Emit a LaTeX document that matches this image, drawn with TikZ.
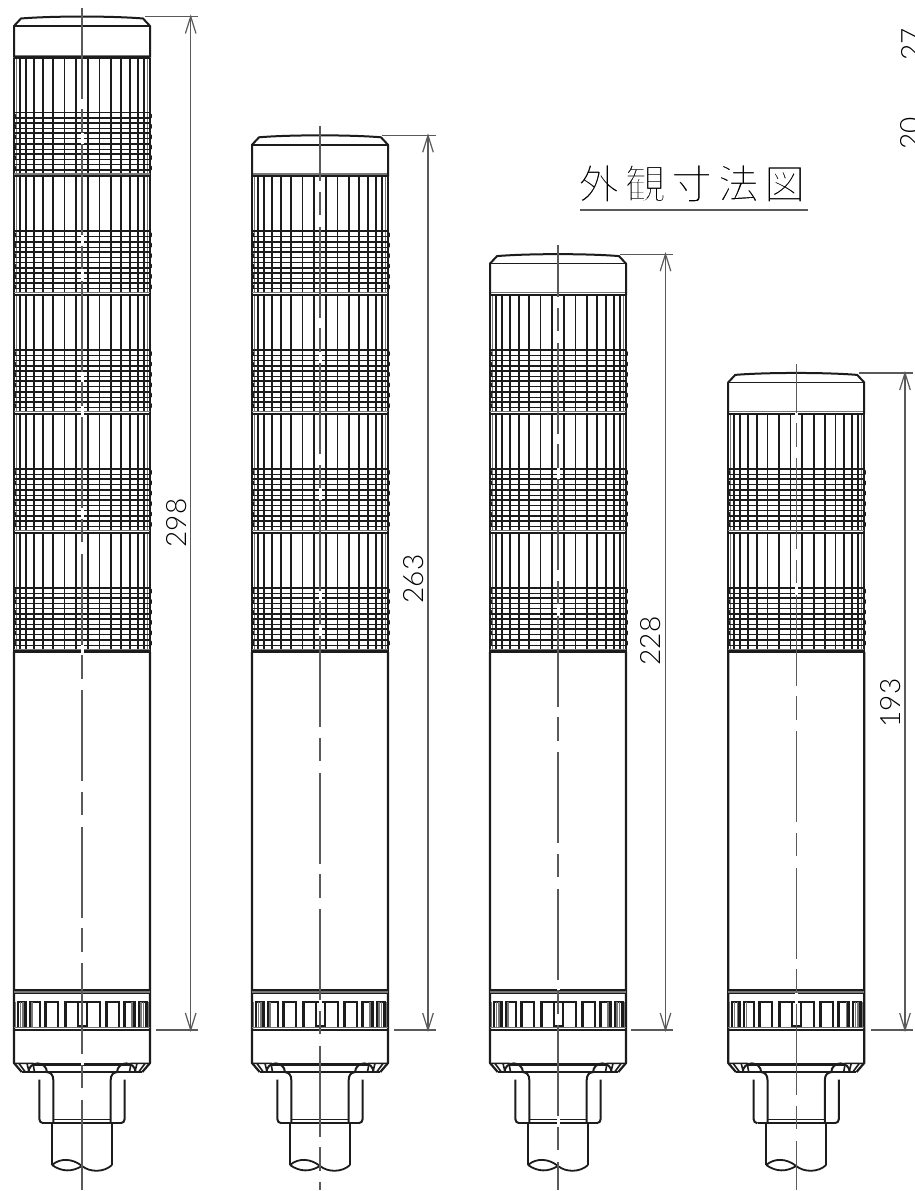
\documentclass[tikz,border=0pt]{standalone}
\usepackage{fontspec}
\newfontfamily\cjkfont{Noto Sans CJK JP}
\newfontfamily\dimfont{Lato Light}
\definecolor{ink}{HTML}{1C1C1C}
\definecolor{dimc}{HTML}{5A5A5A}
\definecolor{midc}{HTML}{777777}
\newcommand{\thinon}[1]{\special{pdf:code 2 Tr #1 w 1 1 1 RG}}
\newcommand{\thinoff}{\special{pdf:code 0 Tr 0 w}}
\tikzset{
  thin line/.style={draw=ink,line width=1.6pt},
  pale/.style={draw=midc,line width=1pt},
  dimline/.style={draw=dimc,line width=1.2pt},
  centerl/.style={draw=dimc,line width=1.3pt},
  dimtext/.style={inner sep=0pt,rotate=90,anchor=center,text=black,font=\dimfont\fontsize{28}{28}\selectfont},
}
\newcommand{\halfmodule}[1]{%
  \foreach \vx/\vw in {5.8/1.6,17.5/1.7,28.7/1.7,39.3/1.7,48/1.7,56/1.6,62/1.6}
    {\draw[draw=ink,line width=\vw pt] (-\vx,#1) -- (-\vx,{#1+116.5});}
  \draw[pale] (-65.3,#1) -- (-65.3,{#1+116.5});
  \draw[draw=ink,line width=2.4pt] (-68,#1) -- (-68,{#1+55});
  \draw[draw=ink,line width=1.6pt] (-68,{#1+55}) -- (-68,{#1+118.8});
  \foreach \g in {0,1,2,3,4,5}{
    \draw[draw=ink,line width=3pt,line cap=round] (-68,{#1+57+10.4*\g}) -- (-68,{#1+60+10.4*\g});
  }
}
\newcommand{\module}[1]{%
  \halfmodule{#1}
  \begin{scope}[xscale=-1]\halfmodule{#1}\end{scope}
  \foreach \g in {0,1,2,3,4,5}{
    \draw[draw=ink,line width=1.7pt] (-67,{#1+55+10.4*\g}) -- (67,{#1+55+10.4*\g});
    \draw[draw=ink,line width=1.3pt] (-67,{#1+60.5+10.4*\g}) -- (67,{#1+60.5+10.4*\g});
  }
  \draw[pale] (-67,{#1+116.3}) -- (67,{#1+116.3});
}
\newcommand{\halfbase}{%
  \draw[draw=ink,line width=2.2pt,line join=round] (-68,652) -- (-68,1063) -- (-60.3,1072);
  \draw[thin line] (-68,1063.3) -- (-49,1063.3) -- (-47.5,1072);
  \draw[thin line] (-63,1063.5) -- (-57,1071.5);
  \draw[thin line] (-55,1063.5) -- (-53,1071.5);
  \draw[draw=ink,line width=2pt] (-53.5,1072) arc[start angle=180,end angle=360,x radius=9.2,y radius=8.6];
  \draw[draw=ink,line width=2pt] (-42.7,1079.5) -- (-42.7,1119) to[out=270,in=180] (-38.7,1123.2);
  \draw[draw=ink,line width=2pt] (-35.3,1072) .. controls (-31,1072.5) and (-28.7,1075) .. (-28.7,1080) -- (-28.7,1123.2);
  \draw[draw=ink,line width=2pt] (-30,1123.2) -- (-30,1165);
  \foreach \a/\b in {64.3/56.7,52.3/42.3,36.7/24.3}{
    \draw[draw=ink,line width=2.4pt,line join=miter] (-\a,1028) -- (-\a,1002) -- (-\b,1002) -- (-\b,1028);
  }
  \foreach \a in {61.7,59,50,66.5}{
    \draw[draw=midc,line width=1.3pt] (-\a,1002) -- (-\a,1028);
  }
}
\newcommand{\tower}[3]{% #1 centre, #2 modules, #3 dash-phase
  \begin{scope}[shift={(#1,0)}]
    \pgfmathsetmacro{\Tt}{651.5-#2*118.8}
    \pgfmathtruncatemacro{\last}{#2-1}
    \foreach \k in {0,...,\last}{ \module{\Tt+\k*118.8} }
    \foreach \k in {0,...,#2}{
      \draw[draw=midc,line width=1.2pt] (-68,{\Tt+\k*118.8-2.4}) -- (68,{\Tt+\k*118.8-2.4});
      \draw[draw=ink,line width=2.3pt] (-68,{\Tt+\k*118.8}) -- (68,{\Tt+\k*118.8});
    }
    \draw[draw=ink,line width=2pt,line join=round]
      (-68,{\Tt}) -- (-68,{\Tt-31.5}) -- (-61,{\Tt-39})
      .. controls (-30,{\Tt-41.6}) and (30,{\Tt-41.6}) .. (61,{\Tt-39})
      -- (68,{\Tt-31.5}) -- (68,{\Tt});
    \draw[thin line] (-68,{\Tt-31.5}) -- (68,{\Tt-31.5});
    \halfbase
    \begin{scope}[xscale=-1]\halfbase\end{scope}
    \draw[draw=ink,line width=2.4pt] (-68,990) -- (68,990);
    \draw[draw=midc,line width=1.2pt] (-68,992) -- (68,992);
    \draw[draw=ink,line width=1.5pt] (-68,993.6) -- (68,993.6);
    \draw[draw=ink,line width=2.4pt,line join=miter] (-16.7,1028) -- (-16.7,1002) -- (17.7,1002) -- (17.7,1028);
    \draw[draw=ink,line width=1.8pt] (-4,1002) -- (-4,1025.7) -- (5,1025.7) -- (5,1002);
    \draw[draw=midc,line width=1.2pt] (-68,1027.6) -- (68,1027.6);
    \draw[draw=ink,line width=2.4pt] (-68,1030) -- (68,1030);
    \draw[draw=ink,line width=2.4pt] (-48,1064.4) -- (48,1064.4);
    \draw[draw=ink,line width=1.8pt] (-60,1071.8) -- (60,1071.8);
    \draw[draw=ink,line width=2pt] (-38.7,1123.2) -- (38.7,1123.2);
    \draw[draw=ink,line width=1.5pt] (-28.7,1119.4) -- (28.7,1119.4);
    \draw[draw=ink,line width=1.8pt,line join=round]
      (-30,1165) .. controls (-22,1158) and (-10,1158) .. (0,1166)
      .. controls (8,1172.5) and (22,1172.5) .. (30,1165);
    \draw[draw=ink,line width=1.8pt] (-30,1165) .. controls (-20,1172) and (-10,1172) .. (0,1166);
    \draw[draw=white,line width=3pt,dash pattern=on 0pt off 91pt on 10.5pt off 23.5pt on 11.5pt off 0pt,dash phase=#3pt] (0,{\Tt-50}) -- (0,1190);
    \draw[centerl,dash pattern=on 91pt off 10.5pt on 23.5pt off 11.5pt,dash phase=#3pt] (0,{\Tt-50}) -- (0,1190);
  \end{scope}
}
\newcommand{\dimension}[5]{%
  \draw[dimline] (#3,#2) -- (#1+7.5,#2);
  \draw[dimline] (#1-34.5,1030) -- (#1+7.5,1030);
  \draw[dimline] (#1,#2) -- (#1,1030);
  \draw[dimline,line join=miter] (#1-5.3,#2+17) -- (#1,#2) -- (#1+5.3,#2+17);
  \draw[dimline,line join=miter] (#1-5.3,1013) -- (#1,1030) -- (#1+5.3,1013);
  \node[dimtext] at (#1-14.5,#4) {#5};
}
\begin{document}
\begin{tikzpicture}[x=1pt,y=-1pt]
\useasboundingbox (0,0) rectangle (914,1191);
\fill[white] (0,0) rectangle (914,1191);
\tower{82}{5}{0}
\tower{320}{4}{36}
\tower{558}{3}{39}
\tower{796.2}{2}{42}
\dimension{190.7}{16.5}{145}{523}{298}
\dimension{428}{135.3}{382}{579}{263}
\dimension{665.5}{254.1}{620}{641}{228}
\dimension{905}{373}{859}{703}{193}
\node (title) [anchor=base west,inner sep=0pt,font=\cjkfont\fontsize{41}{41}\selectfont] at (578,199)
  {\thinon{1.7}外\hspace{5.5pt}観\hspace{5.5pt}寸\hspace{5.5pt}法\hspace{5.5pt}図\thinoff};
\draw[dimline] (580,210) -- (808,210);
\node (ta) [dimtext] at (911,44) {27};
\node (tb) [dimtext] at (911,133) {20};
\end{tikzpicture}
\end{document}
